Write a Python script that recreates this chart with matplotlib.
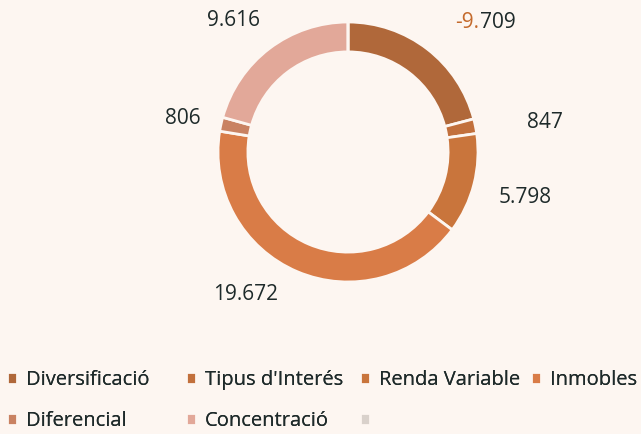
import numpy as np
import matplotlib
matplotlib.use("Agg")
import matplotlib.pyplot as plt

plt.rcParams['font.family'] = ['Open Sans', 'DejaVu Sans']

# data (the first value is shown negative, drawn by its size)
categories = ["Diversificació", "Tipus d'Interés", "Renda Variable", "Inmobles",
              "Diferencial", "Concentració", ""]
values = [-9709, 847, 5798, 19672, 806, 9616, 0]
value_labels = ["-9.709", "847", "5.798", "19.672", "806", "9.616"]
colors = ["#b0683a", "#c2703c", "#c9753c", "#d97c47", "#c98262", "#e2a899", "#d9d1cb"]

# where the value labels sit, in ring radii from the centre
label_pos = [(1.15, 1.0), (1.515, 0.23), (1.36, -0.35), (-0.79, -1.10),
             (-1.27, 0.26), (-0.88, 1.015)]

bg = "#fdf6f1"
txt = "#1e2a2a"

fig = plt.figure(figsize=(6.41, 4.34), dpi=100, facecolor=bg)
# axes placed so that the ring centre sits at (348, 152) px, radius 130 px
R = 130.0
lim = 1.7
side = 2 * lim * R
ax = fig.add_axes([(348 - side / 2) / 641, (434 - 152 - side / 2) / 434,
                   side / 641, side / 434])
ax.set_facecolor(bg)

sizes = np.abs(values)
wedges, _ = ax.pie(sizes, colors=colors, startangle=90, counterclock=False,
                   wedgeprops=dict(width=0.23, edgecolor=bg, linewidth=2))
ax.set_xlim(-lim, lim)
ax.set_ylim(-lim, lim)
ax.set_aspect('equal')
ax.axis('off')

for (x, y), lab in zip(label_pos, value_labels):
    if lab.startswith("-"):
        # the scan shows "-9." in orange and "709" in dark
        t = ax.text(x, y, lab[3:], ha='center', va='center',
                    fontsize=15, color=txt)
        ax.annotate(lab[:3], xy=(0, 0.5), xycoords=t, ha='right', va='center',
                    fontsize=15, color='#c46a2c')
    else:
        ax.text(x, y, lab, ha='center', va='center', fontsize=15, color=txt)

# legend: Excel style fixed columns, one legend per column
col_x = [7, 186, 360, 531]
col_items = [[0, 4], [1, 5], [2, 6], [3]]
for cx, items in zip(col_x, col_items):
    lg = fig.legend([wedges[i] for i in items], [categories[i] for i in items],
                    loc='upper left', bbox_to_anchor=(cx / 641, 0.147),
                    ncol=1, frameon=False, fontsize=14.5, handlelength=0.5,
                    handleheight=0.5, handletextpad=0.45, borderpad=0,
                    borderaxespad=0, labelspacing=1.05, labelcolor=txt)
    fig.add_artist(lg)

fig.savefig("out.png", dpi=100, facecolor=bg)
